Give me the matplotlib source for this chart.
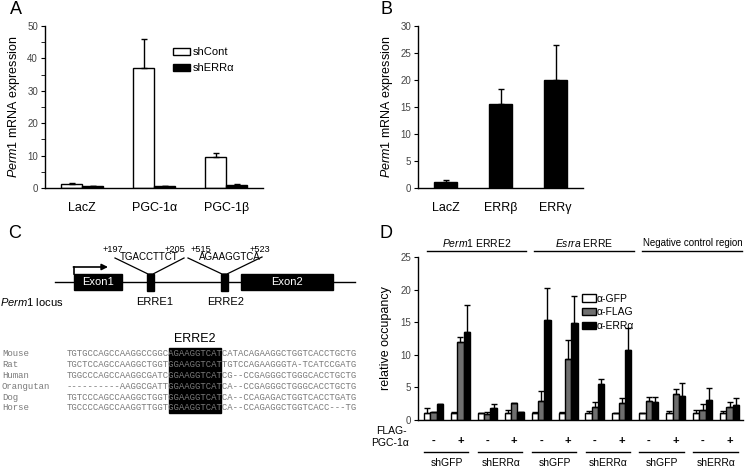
import numpy as np
import matplotlib
matplotlib.use("Agg")
import matplotlib.pyplot as plt
from matplotlib.patches import Rectangle

plt.rcParams.update({
    "font.family": "Liberation Sans",
    "mathtext.fontset": "custom",
    "mathtext.rm": "Liberation Sans",
    "mathtext.it": "Liberation Sans:italic",
    "axes.linewidth": 1.0,
    "xtick.major.size": 0,
    "ytick.major.size": 3,
    "ytick.minor.size": 3,
    "ytick.labelsize": 7,
    "ytick.labelcolor": "#444444",
})

W, H = 745, 469

# --- panel A
cats_a = ["LacZ", "PGC-1α", "PGC-1β"]
shcont = [1.1, 37.0, 9.7]
shcont_err = [0.3, 9.0, 1.2]
sherr = [0.5, 0.5, 0.8]
sherr_err = [0.15, 0.2, 0.3]

# --- panel B
cats_b = ["LacZ", "ERRβ", "ERRγ"]
expr_b = [1.1, 15.6, 20.0]
expr_b_err = [0.3, 2.7, 6.5]

# --- panel D
gfp = [1.0, 1.1, 1.0, 1.0, 1.0, 1.1, 1.0, 1.0, 1.0, 1.0, 1.0, 1.0]
gfp_err = [0.8, 0.2, 0.0, 0.5, 0.3, 0.2, 0.4, 0.1, 0.0, 0.4, 0.5, 0.4]
flag = [1.2, 12.0, 0.9, 2.55, 2.9, 9.3, 2.0, 2.55, 2.9, 4.0, 1.6, 2.0]
flag_err = [0.0, 0.75, 0.4, 0.0, 1.6, 3.0, 0.8, 0.85, 0.7, 0.8, 0.8, 0.7]
erra = [2.4, 13.5, 1.9, 1.2, 15.4, 14.9, 5.5, 10.7, 2.7, 3.7, 3.0, 2.3]
erra_err = [0.1, 4.1, 0.5, 0.1, 4.8, 4.1, 0.8, 3.4, 0.9, 2.0, 1.9, 1.0]
pgc_signs = ["-", "+"] * 6
sh_labels = ["shGFP", "shERRα"] * 3
regions = ["$\\mathit{Perm1}$ ERRE2", "$\\mathit{Esrra}$ ERRE", "Negative control region"]

# --- panel C
species = ["Mouse", "Rat", "Human", "Orangutan", "Dog", "Horse"]
sequences = [
    "TGTGCCAGCCAAGGCCGGCAGAAGGTCATCATACAGAAGGCTGGTCACCTGCTG",
    "TGCTCCAGCCAAGGCTGGTGGAAGGTCATTGTCCAGAAGGGTA-TCATCCGATG",
    "TGGCCCAGCCAAGGCGATCGGAAGGTCATCG--CCGAGGGCTGGGCACCTGCTG",
    "----------AAGGCGATTGGAAGGTCATCA--CCGAGGGCTGGGCACCTGCTG",
    "TGTCCCAGCCAAGGCTGGTGGAAGGTCATCA--CCAGAGACTGGTCACCTGATG",
    "TGCCCCAGCCAAGGTTGGTGGAAGGTCATCA--CCAGAGGCTGGTCACC---TG",
]
erre2_start, erre2_len = 19, 9


def rect(l, t, r, b):
    return [l / W, 1 - b / H, (r - l) / W, (b - t) / H]


def style_axes(ax):
    ax.spines["top"].set_visible(False)
    ax.spines["right"].set_visible(False)
    ax.tick_params(axis="x", length=0, pad=10, labelsize=9, labelcolor="black")
    ax.tick_params(axis="y", direction="out", pad=2)


fig = plt.figure(figsize=(W / 100, H / 100), dpi=100)

# overlay in pixel coordinates (panel C + letters)
ov = fig.add_axes([0, 0, 1, 1])
ov.set_xlim(0, W)
ov.set_ylim(H, 0)
ov.axis("off")

for letter, (lx, ly) in zip("ABCD", [(16, 9), (386, 10), (15, 234), (386, 234)]):
    ov.text(lx, ly, letter, fontsize=13, ha="center", va="center")

# ---------------- A
ax_a = fig.add_axes(rect(45, 26, 263, 188))
xa = np.arange(len(cats_a))
wa = 0.29
b1 = ax_a.bar(xa - wa / 2, shcont, wa, color="white", edgecolor="black", lw=1,
              yerr=[np.zeros(3), shcont_err], capsize=2.2,
              error_kw=dict(elinewidth=1, capthick=1))
b2 = ax_a.bar(xa + wa / 2, sherr, wa, color="black", edgecolor="black", lw=1,
              yerr=[np.zeros(3), sherr_err], capsize=2.2,
              error_kw=dict(elinewidth=1, capthick=1))
ax_a.set_xlim(-0.514, 2.51)
ax_a.set_ylim(0, 50)
ax_a.set_yticks([0, 10, 20, 30, 40, 50])
ax_a.set_yticks([5, 15, 25, 35, 45], minor=True)
ax_a.set_xticks(xa)
ax_a.set_xticklabels(cats_a)
ax_a.set_ylabel("$\\mathit{Perm1}$ mRNA expression", fontsize=9, labelpad=4)
style_axes(ax_a)
ax_a.legend(handles=[b1, b2], labels=["shCont", "shERRα"], loc="upper left",
            bbox_to_anchor=(0.587, 0.87), frameon=False, fontsize=8,
            handlelength=1.5, handleheight=0.6, handletextpad=0.3,
            labelspacing=0.55, borderpad=0, borderaxespad=0)

# ---------------- B
ax_b = fig.add_axes(rect(418, 26, 583, 188))
xb = np.arange(len(cats_b))
ax_b.bar(xb, expr_b, 0.42, color="black", edgecolor="black", lw=1,
         yerr=[np.zeros(3), expr_b_err], capsize=2.2,
         error_kw=dict(elinewidth=1, capthick=1))
ax_b.set_xlim(-0.5, 2.5)
ax_b.set_ylim(0, 30)
ax_b.set_yticks([0, 5, 10, 15, 20, 25, 30])
ax_b.set_xticks(xb)
ax_b.set_xticklabels(cats_b)
ax_b.set_ylabel("$\\mathit{Perm1}$ mRNA expression", fontsize=9, labelpad=4)
style_axes(ax_b)

# ---------------- D
ax_d = fig.add_axes(rect(418, 257, 743, 420))
xd = np.arange(12)
wd = 0.235
ekw = dict(elinewidth=1, capthick=1)
z = np.zeros(12)
h1 = ax_d.bar(xd - wd, gfp, wd, color="white", edgecolor="black", lw=1,
              yerr=[z, gfp_err], capsize=2, error_kw=ekw)
h2 = ax_d.bar(xd, flag, wd, color="#6f6f6f", edgecolor="black", lw=1,
              yerr=[z, flag_err], capsize=2, error_kw=ekw)
h3 = ax_d.bar(xd + wd, erra, wd, color="black", edgecolor="black", lw=1,
              yerr=[z, erra_err], capsize=2, error_kw=ekw)
ax_d.set_xlim(-0.576, 11.5)
ax_d.set_ylim(0, 25)
ax_d.set_yticks([0, 5, 10, 15, 20, 25])
ax_d.set_xticks([])
ax_d.set_ylabel("relative occupancy", fontsize=9, labelpad=6)
style_axes(ax_d)
ax_d.legend(handles=[h1, h2, h3], labels=["α-GFP", "α-FLAG", "α-ERRα"],
            loc="upper left", bbox_to_anchor=(0.505, 0.775), frameon=False,
            fontsize=7.5, handlelength=1.3, handleheight=0.7, handletextpad=0.1,
            labelspacing=0.35, borderpad=0, borderaxespad=0)

tr = ax_d.get_xaxis_transform()
for k, name in enumerate(regions):
    c = 4 * k + 1.6
    ax_d.plot([c - 1.85, c + 1.85], [1.037, 1.037], color="black", lw=1,
              transform=tr, clip_on=False)
    ax_d.text(c + (0.05 if k == 2 else 0), 1.085, name, transform=tr,
              ha="center", va="center", fontsize=7 if k == 2 else 7.5)
for i, s in enumerate(pgc_signs):
    ax_d.text(i, -0.13, s, transform=tr, ha="center", va="center",
              fontsize=8, fontweight="bold")
for k, lab in enumerate(sh_labels):
    c = 2 * k + 0.5
    ax_d.plot([c - 0.85, c + 0.8], [-0.196, -0.196], color="black", lw=1,
              transform=tr, clip_on=False)
    ax_d.text(c, -0.265, lab, transform=tr, ha="center", va="center", fontsize=7.5)
ax_d.text(-2.15, -0.067, "FLAG-", transform=tr, ha="left", va="center", fontsize=7.5)
ax_d.text(-2.33, -0.14, "PGC-1α", transform=tr, ha="left", va="center", fontsize=7.5)

# ---------------- C : locus diagram
ov.plot([55, 355], [282, 282], color="black", lw=1, zorder=1)
for (x0, x1, y0, y1, lab) in [(74, 122, 274, 290, "Exon1"), (241, 333, 274, 290, "Exon2"),
                              (147, 154, 274, 291, None), (221, 228, 274, 291, None)]:
    ov.add_patch(Rectangle((x0, y0), x1 - x0, y1 - y0, color="black", zorder=2))
    if lab:
        ov.text((x0 + x1) / 2, (y0 + y1) / 2, lab, color="white", fontsize=8,
                ha="center", va="center", zorder=3)
ov.plot([74, 74], [274, 267], color="black", lw=1.2)
ov.annotate("", xy=(108, 267), xytext=(73.4, 267),
            arrowprops=dict(arrowstyle="-|>", color="black", lw=1.2,
                            mutation_scale=9, shrinkA=0, shrinkB=0))
ov.plot([115, 148, 153, 184], [258, 274, 274, 258], color="black", lw=0.9)
ov.plot([188, 222, 227, 262], [258, 274, 274, 257], color="black", lw=0.9)
for x, y, t in [(113, 249, "+197"), (175, 249, "+205"), (201, 249, "+515"),
                (260, 249, "+523")]:
    ov.text(x, y, t, fontsize=6.6, ha="center", va="center")
for x, t in [(149, "TGACCTTCT"), (230, "AGAAGGTCA")]:
    ov.text(x, 257, t, fontsize=7, ha="center", va="center")
ov.text(0, 302, "$\\mathit{Perm1}$ locus", fontsize=8, ha="left", va="center")
ov.text(155, 302, "ERRE1", fontsize=8, ha="center", va="center")
ov.text(226, 302, "ERRE2", fontsize=8, ha="center", va="center")

# ---------------- C : alignment
cw = 5.39
seq_x0 = 67
fs_mono = cw / 0.6 * 72 / 100
ov.add_patch(Rectangle((seq_x0 + erre2_start * cw, 348), erre2_len * cw + 3.5, 65,
                       color="black", zorder=1))
ov.text(seq_x0 + (erre2_start + erre2_len / 2) * cw + 1, 339, "ERRE2",
        fontsize=9, ha="center", va="center")
for j, (sp, sq) in enumerate(zip(species, sequences)):
    y = 354 + j * 10.8
    ov.text(2, y, sp, family="Liberation Mono", fontsize=fs_mono, color="#7a7a7a",
            ha="left", va="center", zorder=3)
    ov.text(seq_x0, y, sq, family="Liberation Mono", fontsize=fs_mono, color="#7a7a7a",
            ha="left", va="center", zorder=3)

fig.savefig("out.png", dpi=100)
